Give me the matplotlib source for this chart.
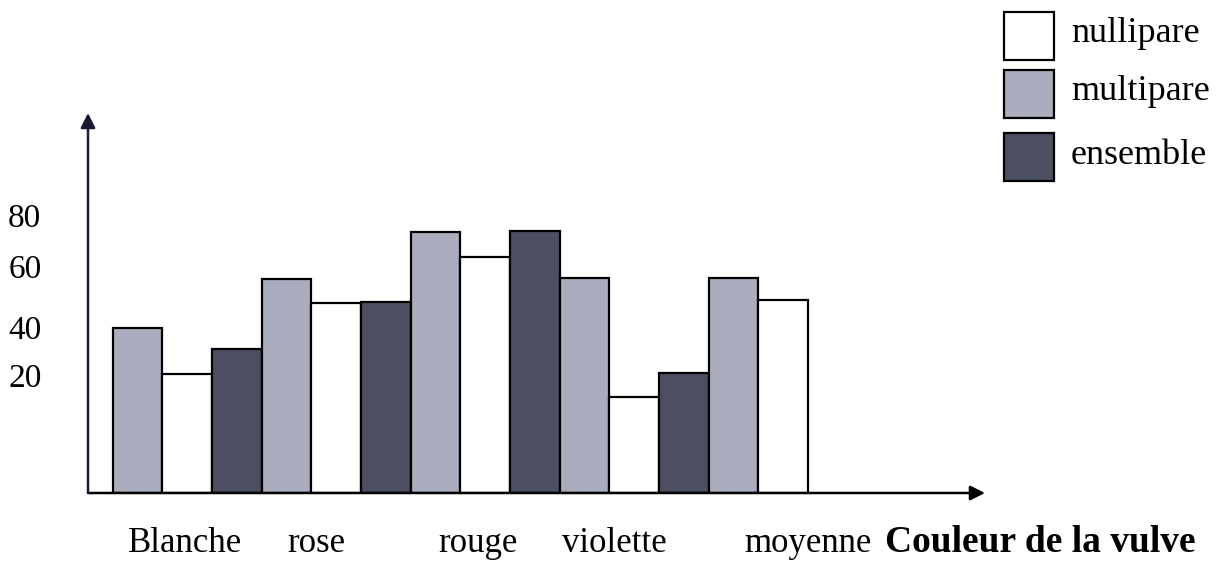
import numpy as np
import matplotlib
matplotlib.use("Agg")
import matplotlib.pyplot as plt
from matplotlib.patches import Rectangle

# Data
categories = ['Blanche', 'rose', 'rouge', 'violette', 'moyenne']
series = ['multipare', 'nullipare', 'ensemble']
multipare = [48, 62.3, 76, 62.5, 62.5]
nullipare = [34.6, 55.3, 68.7, 28, 56]
ensemble = [42, 55.6, 76.2, 35, None]  # no "ensemble" bar for moyenne
ytick_labels = ['80', '60', '40', '20']
ytick_pos = [79.7, 64.9, 47.1, 33.2]
label_pos = [0.95, 3.59, 6.85, 9.61, 13.5]

colors = {'nullipare': '#ffffff', 'multipare': '#a9adbe', 'ensemble': '#4b4f61'}

plt.rcParams['font.family'] = ['Liberation Serif', 'DejaVu Serif']

W, H = 1227, 563
fig = plt.figure(figsize=(W / 100, H / 100), dpi=100)
ax = fig.add_axes([88 / W, (H - 493) / H, (985 - 88) / W, (493 - 113) / H])

values = {'multipare': multipare, 'nullipare': nullipare, 'ensemble': ensemble}
for i, cat in enumerate(categories):
    for j, s in enumerate(series):
        v = values[s][i]
        if v is None:
            continue
        ax.bar(3 * i + j, v, width=1.0, color=colors[s], edgecolor='black',
               linewidth=1.6, zorder=2)

ax.set_xlim(-1.0, 17.07)
ax.set_ylim(0, 110.5)
for sp in ax.spines.values():
    sp.set_visible(False)
ax.set_xticks([])
ax.set_yticks([])

# axes with arrows
ax.annotate('', xy=(1, 0), xytext=(0, 0), xycoords='axes fraction',
            arrowprops=dict(arrowstyle='-|>', color='black', lw=1.8,
                            mutation_scale=22, shrinkA=0, shrinkB=0), zorder=3)
ax.annotate('', xy=(0, 1), xytext=(0, 0), xycoords='axes fraction',
            arrowprops=dict(arrowstyle='-|>', color='#1a1a33', lw=1.8,
                            mutation_scale=22, shrinkA=0, shrinkB=0), zorder=3)

# y labels
for lab, p in zip(ytick_labels, ytick_pos):
    ax.text(-0.089, p, lab, transform=ax.get_yaxis_transform(), ha='left',
            va='center', fontsize=24)

# category labels
for lab, p in zip(categories, label_pos):
    ax.text(p, -0.155, lab, transform=ax.get_xaxis_transform(), ha='center',
            va='baseline', fontsize=25)
fig.text(1196 / W, (H - 552) / H, 'Couleur de la vulve', fontsize=27,
         fontweight='bold', ha='right', va='baseline')

# legend
legend_order = ['nullipare', 'multipare', 'ensemble']
box_y = [12, 70, 133]
for s, y in zip(legend_order, box_y):
    fig.add_artist(Rectangle((1004 / W, (H - y - 48) / H), 50 / W, 48 / H,
                             transform=fig.transFigure, facecolor=colors[s],
                             edgecolor='black', linewidth=1.6))
    fig.text(1071 / W, (H - y - 22) / H, s, fontsize=26, ha='left', va='center')

fig.savefig('out.png', dpi=100)
